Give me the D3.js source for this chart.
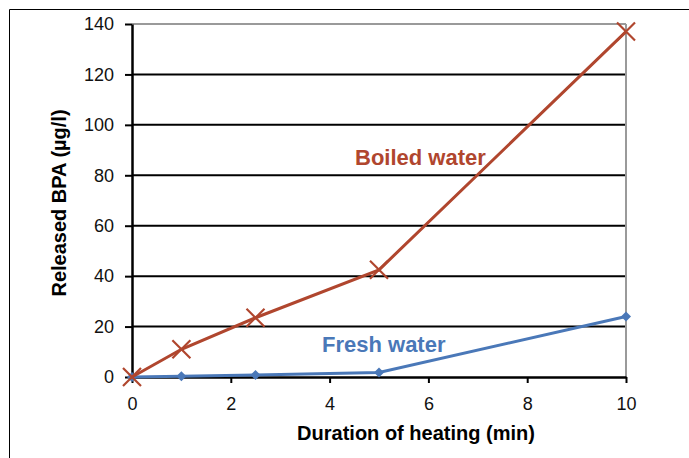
<!DOCTYPE html>
<html lang="en">
<head>
<meta charset="UTF-8">
<title>Released BPA</title>
<script src="https://d3js.org/d3.v7.min.js"></script>
<style>
  body { margin: 0; background: #fff; }
  text { font-family: "Liberation Sans", Arial, sans-serif; }
</style>
</head>
<body>
<script>
// data
const minutes = [0, 1, 2.5, 5, 10];
const boiled = [0, 11, 23.5, 42.5, 137];
const fresh = [0, 0.3, 0.8, 1.8, 24];
const xTicks = [0, 2, 4, 6, 8, 10];
const yTicks = [0, 20, 40, 60, 80, 100, 120, 140];

const W = 689, H = 458;
const svg = d3.select("body").append("svg")
    .attr("width", W).attr("height", H);

// outer frame (only left and top visible)
svg.append("path")
    .attr("d", `M9.5,${H} V9.5 H${W}`)
    .attr("fill", "none").attr("stroke", "#000").attr("stroke-width", 1);

const x = d3.scaleLinear().domain([0, 10]).range([132, 626]);
const y = d3.scaleLinear().domain([0, 140]).range([377, 24]);

// gridlines
svg.append("g").selectAll("line")
    .data(yTicks.filter(d => d > 0))
    .join("line")
    .attr("x1", x(0)).attr("x2", x(10))
    .attr("y1", d => y(d)).attr("y2", d => y(d))
    .attr("stroke", d => d === 140 ? "#9a9a9a" : "#000")
    .attr("stroke-width", 2);

// right border of plot
svg.append("line")
    .attr("x1", x(10)).attr("x2", x(10))
    .attr("y1", y(140)).attr("y2", y(0))
    .attr("stroke", "#9a9a9a").attr("stroke-width", 2);

// axes
const gx = svg.append("g")
    .attr("transform", `translate(0,${y(0)})`)
    .call(d3.axisBottom(x).tickValues(xTicks).tickSize(6).tickPadding(14).tickSizeOuter(0));
const gy = svg.append("g")
    .attr("transform", `translate(${x(0)},0)`)
    .call(d3.axisLeft(y).tickValues(yTicks).tickSize(7).tickPadding(11).tickSizeOuter(0));
[gx, gy].forEach(g => {
    g.attr("font-size", 18).attr("font-family", null);
    g.select(".domain").attr("stroke", "#000").attr("stroke-width", 2.5);
    g.selectAll(".tick line").attr("stroke", "#000").attr("stroke-width", 2);
    g.selectAll(".tick text").attr("fill", "#111");
});

// series
const line = d3.line().x(d => x(d[0])).y(d => y(d[1]));
const boiledPts = minutes.map((m, i) => [m, boiled[i]]);
const freshPts = minutes.map((m, i) => [m, fresh[i]]);

svg.append("path").datum(freshPts)
    .attr("d", line).attr("fill", "none")
    .attr("stroke", "#4a78b8").attr("stroke-width", 3);
svg.append("g").selectAll("path")
    .data(freshPts).join("path")
    .attr("d", d3.symbol(d3.symbolSquare, 50))
    .attr("transform", d => `translate(${x(d[0])},${y(d[1])}) rotate(45)`)
    .attr("fill", "#4a78b8");

svg.append("path").datum(boiledPts)
    .attr("d", line).attr("fill", "none")
    .attr("stroke", "#b0462e").attr("stroke-width", 3);
svg.append("g").selectAll("path")
    .data(boiledPts).join("path")
    .attr("d", "M-9,-9L9,9M-9,9L9,-9")
    .attr("transform", d => `translate(${x(d[0])},${y(d[1])})`)
    .attr("stroke", "#b0462e").attr("stroke-width", 2.2).attr("fill", "none");

// series labels
svg.append("text")
    .attr("x", 355).attr("y", 165)
    .attr("font-size", 22).attr("font-weight", "bold")
    .attr("fill", "#b0462e").text("Boiled water");
svg.append("text")
    .attr("x", 322).attr("y", 352)
    .attr("font-size", 22).attr("font-weight", "bold")
    .attr("fill", "#4a78b8").text("Fresh water");

// axis titles
svg.append("text")
    .attr("x", 416).attr("y", 440)
    .attr("text-anchor", "middle")
    .attr("font-size", 20).attr("font-weight", "bold")
    .text("Duration of heating  (min)");
svg.append("text")
    .attr("transform", "translate(66,203) rotate(-90)")
    .attr("text-anchor", "middle")
    .attr("font-size", 20).attr("font-weight", "bold")
    .text("Released BPA  (\u00b5g/l)");
</script>
</body>
</html>
